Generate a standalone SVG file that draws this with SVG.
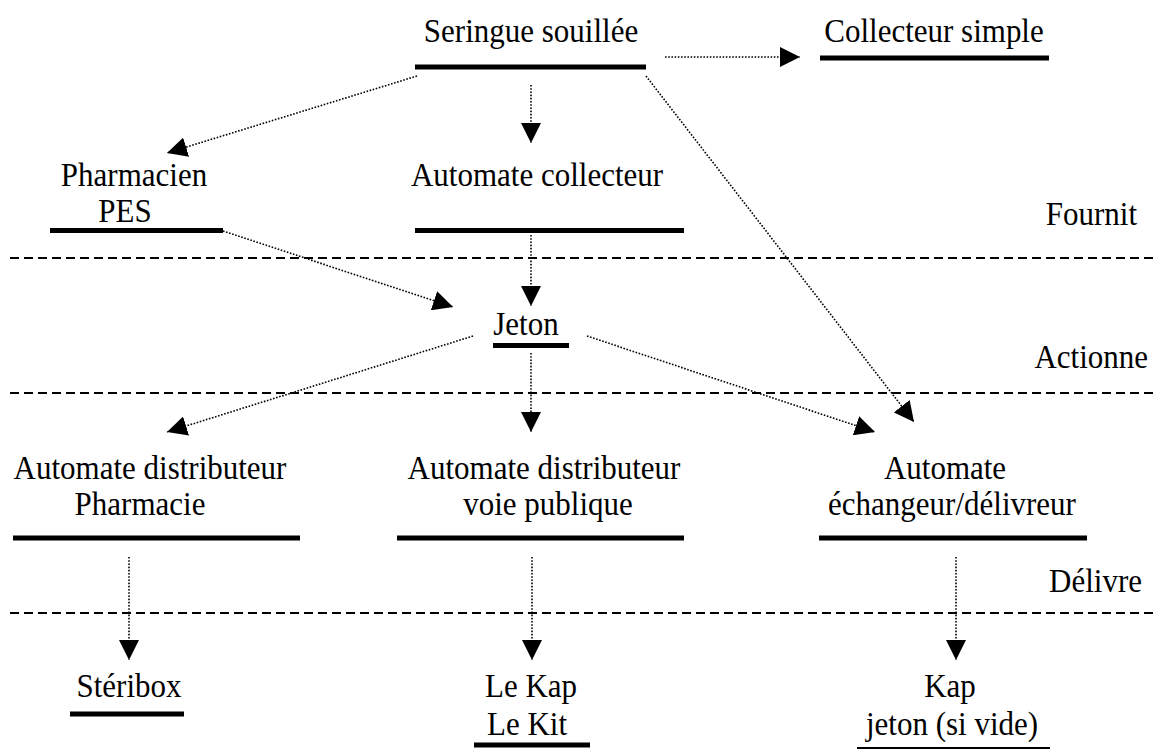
<svg xmlns="http://www.w3.org/2000/svg" width="1153" height="754" viewBox="0 0 1153 754">
<defs>
<style>
text{font-family:"Liberation Serif","Times New Roman",serif;font-size:31px;fill:#000}
.m{text-anchor:middle}
.e{text-anchor:end}
.bar{stroke:#000;stroke-width:5}
.thin{stroke:#000;stroke-width:2}
.sep{stroke:#000;stroke-width:2;stroke-dasharray:9 5}
.c{stroke:#000;stroke-width:1.6;stroke-dasharray:1.6 1.6;fill:none;marker-end:url(#ah)}
</style>
<marker id="ah" markerUnits="userSpaceOnUse" markerWidth="20" markerHeight="20" refX="20" refY="10" orient="auto" viewBox="0 0 20 20">
<path d="M0,0 L20,10 L0,20 z" fill="#000"/>
</marker>
</defs>
<rect width="1153" height="754" fill="#fff"/>
<g id="separators">
<line class="sep" x1="10" y1="258" x2="1153" y2="258"/>
<line class="sep" x1="10" y1="393" x2="1153" y2="393"/>
<line class="sep" x1="10" y1="613" x2="1153" y2="613"/>
</g>
<g id="labels">
<text class="e" transform="translate(1137,225) scale(1,1.12)">Fournit</text>
<text class="e" transform="translate(1148,368) scale(1,1.12)">Actionne</text>
<text class="e" transform="translate(1142,592) scale(1,1.12)">Délivre</text>
</g>
<g id="seringue">
<text class="m" transform="translate(531,42) scale(1,1.12)">Seringue souillée</text>
<line class="bar" x1="415" y1="67" x2="646" y2="67"/>
</g>
<g id="collecteur-simple">
<text class="m" transform="translate(934,42) scale(1,1.12)">Collecteur simple</text>
<line class="bar" x1="820" y1="58" x2="1049" y2="58"/>
</g>
<g id="pharmacien">
<text class="m" transform="translate(134,186) scale(1,1.12)">Pharmacien</text>
<text class="m" transform="translate(125,222) scale(1,1.12)">PES</text>
<line class="bar" x1="50" y1="230.5" x2="223" y2="230.5"/>
</g>
<g id="automate-collecteur">
<text class="m" transform="translate(537,186) scale(1,1.12)">Automate collecteur</text>
<line class="bar" x1="415" y1="230.5" x2="684" y2="230.5"/>
</g>
<g id="jeton">
<text class="m" transform="translate(526,335) scale(1,1.12)">Jeton</text>
<line class="bar" x1="493" y1="345.5" x2="569" y2="345.5"/>
</g>
<g id="distributeur-pharmacie">
<text class="m" transform="translate(150,479) scale(1,1.12)">Automate distributeur</text>
<text class="m" transform="translate(140,515) scale(1,1.12)">Pharmacie</text>
<line class="bar" x1="13" y1="538" x2="300" y2="538"/>
</g>
<g id="distributeur-voie">
<text class="m" transform="translate(544,479) scale(1,1.12)">Automate distributeur</text>
<text class="m" transform="translate(548,515) scale(1,1.12)">voie publique</text>
<line class="bar" x1="397" y1="538" x2="684" y2="538"/>
</g>
<g id="echangeur">
<text class="m" transform="translate(945,479) scale(1,1.12)">Automate</text>
<text class="m" transform="translate(952,515) scale(1,1.12)">échangeur/délivreur</text>
<line class="bar" x1="819" y1="538" x2="1087" y2="538"/>
</g>
<g id="steribox">
<text class="m" transform="translate(129,697) scale(1,1.12)">Stéribox</text>
<line class="bar" x1="70" y1="714" x2="184" y2="714"/>
</g>
<g id="kap-kit">
<text class="m" transform="translate(531,697) scale(1,1.12)">Le Kap</text>
<text class="m" transform="translate(527,735) scale(1,1.12)">Le Kit</text>
<line class="bar" x1="474" y1="745" x2="590" y2="745"/>
</g>
<g id="kap-jeton">
<text class="m" transform="translate(950,697) scale(1,1.12)">Kap</text>
<text class="m" transform="translate(952,735) scale(1,1.12)">jeton (si vide)</text>
<line class="thin" x1="857" y1="748" x2="1050" y2="748"/>
</g>
<g id="connectors">
<line class="c" x1="665" y1="57" x2="800" y2="57"/>
<line class="c" x1="417" y1="76" x2="167" y2="153"/>
<line class="c" x1="531" y1="85" x2="531" y2="143"/>
<line class="c" x1="646" y1="76" x2="914" y2="422"/>
<line class="c" x1="223" y1="231" x2="453" y2="307"/>
<line class="c" x1="531" y1="235" x2="531" y2="306"/>
<line class="c" x1="473" y1="336" x2="167" y2="432"/>
<line class="c" x1="531" y1="353" x2="531" y2="432"/>
<line class="c" x1="587" y1="336" x2="875" y2="432"/>
<line class="c" x1="129" y1="557" x2="129" y2="660"/>
<line class="c" x1="532" y1="557" x2="532" y2="660"/>
<line class="c" x1="956" y1="557" x2="956" y2="660"/>
</g>
</svg>
